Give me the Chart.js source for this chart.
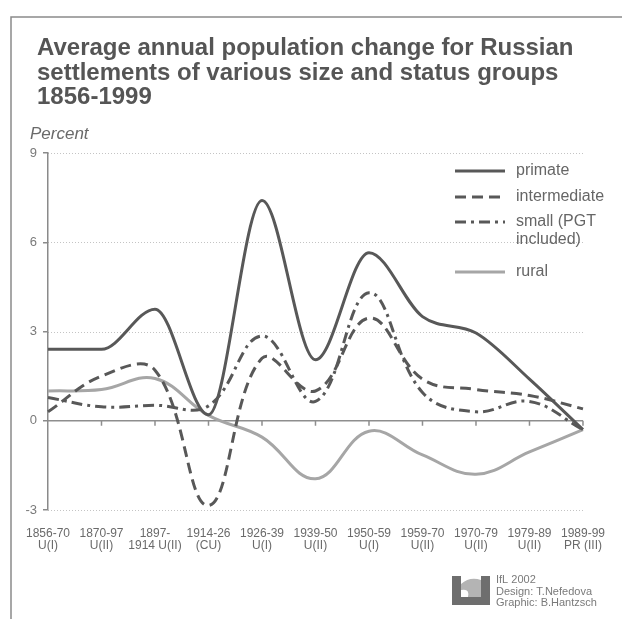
<!DOCTYPE html>
<html>
<head>
<meta charset="utf-8">
<script src="https://cdn.jsdelivr.net/npm/chart.js@4.4.1/dist/chart.umd.min.js"></script>
<style>
	html, body { margin: 0; padding: 0; background: #fff; }
	#wrap { position: relative; width: 622px; height: 619px; }
</style>
</head>
<body>
<div id="wrap"><canvas id="chart" width="622" height="619"></canvas></div>
<script>
// periods and settlement status
const periods = [
	["1856-70", "U(I)"], ["1870-97", "U(II)"], ["1897-", "1914 U(II)"], ["1914-26", "(CU)"],
	["1926-39", "U(I)"], ["1939-50", "U(II)"], ["1950-59", "U(I)"], ["1959-70", "U(II)"],
	["1970-79", "U(II)"], ["1979-89", "U(II)"], ["1989-99", "PR (III)"]
]

// average annual change, percent
const primate = [2.4, 2.4, 3.75, 0.2, 7.4, 2.05, 5.65, 3.5, 2.95, 1.4, -0.3]
const intermediate = [0.3, 1.5, 1.7, -2.85, 2.1, 1.0, 3.45, 1.4, 1.05, 0.85, 0.4]
const small = [0.78, 0.47, 0.52, 0.5, 2.85, 0.65, 4.3, 0.95, 0.3, 0.65, -0.3]
const rural = [1.0, 1.05, 1.42, 0.18, -0.55, -1.95, -0.35, -1.15, -1.8, -1.05, -0.3]

const yTicks = [-3, 0, 3, 6, 9]
const titleLines = ["Average annual population change for Russian",
	"settlements of various size and status groups", "1856-1999"]
const legendNames = [["primate"], ["intermediate"], ["small (PGT", "included)"], ["rural"]]
const credits = ["IfL 2002", "Design: T.Nefedova", "Graphic: B.Hantzsch"]

const dark = "#585858"
const light = "#a6a6a6"

const decor = {
	id: "decor",
	beforeDraw(c) {
		const ctx = c.ctx
		const x = c.scales.x, y = c.scales.y
		const area = c.chartArea
		ctx.save()
		ctx.fillStyle = "#fff"
		ctx.fillRect(0, 0, c.width, c.height)
		// frame
		ctx.strokeStyle = "#8a8a8a"
		ctx.lineWidth = 1.5
		ctx.beginPath()
		ctx.moveTo(11, 619)
		ctx.lineTo(11, 17)
		ctx.lineTo(622, 17)
		ctx.stroke()
		// dotted grid
		ctx.strokeStyle = "#c4c4c4"
		ctx.lineWidth = 1
		ctx.setLineDash([1, 2])
		yTicks.forEach(v => {
			if (v === 0) return
			const py = Math.round(y.getPixelForValue(v)) + 0.5
			ctx.beginPath()
			ctx.moveTo(area.left, py)
			ctx.lineTo(area.right + 2, py)
			ctx.stroke()
		})
		ctx.setLineDash([])
		// zero line and period ticks
		const zy = y.getPixelForValue(0)
		ctx.strokeStyle = "#8e8e8e"
		ctx.lineWidth = 1.5
		ctx.beginPath()
		ctx.moveTo(area.left, zy)
		ctx.lineTo(area.right, zy)
		periods.forEach((p, i) => {
			if (i === 0) return
			const px = x.getPixelForValue(i)
			ctx.moveTo(px, zy)
			ctx.lineTo(px, zy + 5)
		})
		ctx.stroke()
		ctx.restore()
	},
	afterDraw(c) {
		const ctx = c.ctx
		ctx.save()
		ctx.textBaseline = "alphabetic"
		ctx.textAlign = "left"
		ctx.fillStyle = "#555"
		ctx.font = "bold 24px 'Liberation Sans', Arial, sans-serif"
		titleLines.forEach((t, i) => ctx.fillText(t, 37, 55 + i * 24.5))
		ctx.fillStyle = "#6a6a6a"
		ctx.font = "italic 17px 'Liberation Sans', Arial, sans-serif"
		ctx.fillText("Percent", 30, 139)

		// legend
		const rows = [171, 197, 222, 272]
		ctx.font = "16px 'Liberation Sans', Arial, sans-serif"
		ctx.textBaseline = "middle"
		c.data.datasets.forEach((ds, i) => {
			ctx.strokeStyle = ds.borderColor
			ctx.lineWidth = ds.borderWidth
			ctx.setLineDash(ds.borderDash || [])
			ctx.beginPath()
			ctx.moveTo(455, rows[i])
			ctx.lineTo(505, rows[i])
			ctx.stroke()
			ctx.setLineDash([])
			ctx.fillStyle = "#666"
			legendNames[i].forEach((t, j) => ctx.fillText(t, 516, rows[i] + j * 18))
		})

		// logo
		ctx.fillStyle = "#6e6e6e"
		ctx.fillRect(452, 576, 9, 29)
		ctx.fillRect(481, 576, 9, 29)
		ctx.fillRect(461, 597, 20, 8)
		ctx.fillStyle = "#b4b4b4"
		ctx.beginPath()
		ctx.moveTo(461, 584)
		ctx.quadraticCurveTo(470, 576, 481, 580)
		ctx.lineTo(481, 597)
		ctx.lineTo(468, 597)
		ctx.quadraticCurveTo(470, 588, 461, 590)
		ctx.fill()

		ctx.fillStyle = "#7a7a7a"
		ctx.font = "11px 'Liberation Sans', Arial, sans-serif"
		credits.forEach((t, i) => ctx.fillText(t, 496, 580 + i * 11.7))
		ctx.restore()
	}
}

function series(label, data, color, dash, mode) {
	return {
		label: label,
		data: data,
		borderColor: color,
		borderWidth: 3,
		borderDash: dash,
		pointRadius: 0,
		tension: 0.4,
		cubicInterpolationMode: mode,
		fill: false,
	}
}

let chart = new Chart(document.getElementById("chart"), {
	type: "line",
	data: {
		labels: periods,
		datasets: [
			series("primate", primate, dark, [], "monotone"),
			series("intermediate", intermediate, dark, [11, 6], "default"),
			series("small (PGT included)", small, dark, [11, 5, 3, 5], "default"),
			series("rural", rural, light, [], "default"),
		],
	},
	options: {
		animation: false,
		responsive: false,
		devicePixelRatio: 1,
		layout: { padding: { top: 153, right: 34, left: 0, bottom: 0 } },
		plugins: { legend: { display: false }, tooltip: { enabled: false } },
		scales: {
			x: {
				type: "category",
				offset: false,
				grid: { display: false, drawTicks: false },
				border: { display: false },
				ticks: {
					autoSkip: false,
					maxRotation: 0,
					padding: 17,
					color: "#6a6a6a",
					font: { family: "'Liberation Sans', Arial, sans-serif", size: 12, lineHeight: 1.05 },
				},
				afterFit(s) { s.height = 109 },
			},
			y: {
				min: -3,
				max: 9,
				afterBuildTicks(s) { s.ticks = yTicks.map(v => ({ value: v })) },
				grid: { drawOnChartArea: false, tickLength: 5, color: "#8a8a8a", lineWidth: 1.5 },
				border: { color: "#8a8a8a", width: 1.5 },
				ticks: {
					padding: 6,
					color: "#7a7a7a",
					font: { family: "'Liberation Sans', Arial, sans-serif", size: 13 },
				},
				afterFit(s) { s.width = 48 },
			},
		},
	},
	plugins: [decor],
});
</script>
</body>
</html>
